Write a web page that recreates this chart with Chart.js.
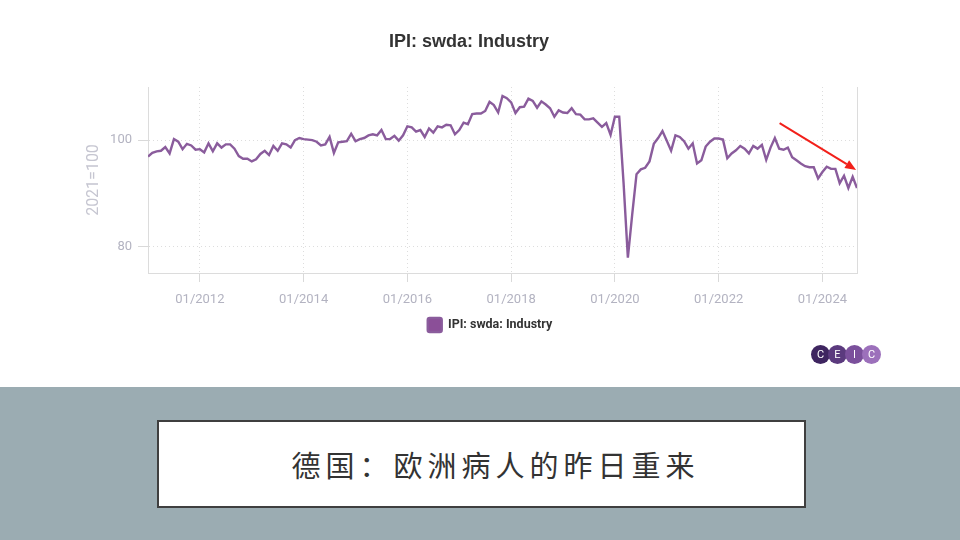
<!DOCTYPE html>
<html>
<head>
<meta charset="utf-8">
<script src="https://cdn.jsdelivr.net/npm/chart.js@4.4.1/dist/chart.umd.min.js"></script>
<style>
html,body{margin:0;padding:0;width:960px;height:540px;overflow:hidden;background:#fff;}
#wrap{position:absolute;left:0;top:0;width:960px;height:387px;background:#fff;}
#band{position:absolute;left:0;top:387px;width:960px;height:153px;background:#9bacb2;}
#box{position:absolute;left:157px;top:420px;width:617px;height:84px;background:#fff;border:2px solid #3f3f3f;
  display:flex;align-items:center;justify-content:center;font-family:"Noto Sans CJK SC";font-size:29px;
  letter-spacing:5px;padding-left:28px;box-sizing:content-box;color:#333;}
#logo{position:absolute;left:811px;top:345px;height:19px;display:flex;}
#logo span{display:block;width:19px;height:19px;border-radius:50%;margin-right:-2px;color:#fff;
  font-family:Roboto;font-size:11px;line-height:19px;text-align:center;}
</style>
</head>
<body>
<div id="wrap"><canvas id="c" width="960" height="387"></canvas></div>
<div id="logo"><span style="background:#3e2560">C</span><span style="background:#5b3a7e">E</span><span style="background:#7b509c">I</span><span style="background:#9c70bb">C</span></div>
<div id="band"></div>
<div id="box">德国：欧洲病人的昨日重来</div>
<script>
// ---- data ----
const chartTitle = 'IPI: swda: Industry';
const seriesName = 'IPI: swda: Industry';
const yAxisTitle = '2021=100';
const startYear = 2011;
const v2011 = [96.9, 97.6, 97.9, 98.0, 98.7, 97.5, 100.2, 99.7, 98.3, 99.3, 99.0, 98.2];
const v2012 = [98.3, 97.7, 99.4, 97.9, 99.4, 98.6, 99.2, 99.2, 98.4, 97.0, 96.5, 96.5];
const v2013 = [96.0, 96.4, 97.4, 98.0, 97.2, 98.9, 98.0, 99.4, 99.2, 98.6, 100.0, 100.4];
const v2014 = [100.2, 100.1, 100.0, 99.7, 99.0, 99.2, 100.6, 97.6, 99.6, 99.7, 99.8, 101.2];
const v2015 = [99.8, 100.2, 100.4, 100.9, 101.1, 100.9, 101.9, 100.2, 100.2, 100.8, 99.9, 100.9];
const v2016 = [102.6, 102.4, 101.6, 101.9, 100.6, 102.2, 101.4, 102.6, 102.4, 102.9, 102.8, 101.1];
const v2017 = [101.9, 103.3, 103.0, 104.9, 105.0, 105.0, 105.5, 107.2, 106.6, 105.2, 108.3, 107.9];
const v2018 = [107.1, 105.1, 106.2, 106.3, 107.8, 107.4, 106.1, 107.3, 106.7, 106.0, 104.4, 105.6];
const v2019 = [105.2, 105.1, 106.0, 104.9, 104.8, 103.9, 103.9, 104.1, 103.3, 102.5, 103.2, 101.0];
const v2020 = [104.4, 104.4, 92.0, 77.9, 86.0, 93.6, 94.5, 94.8, 96.0, 99.3, 100.4, 101.7];
const v2021 = [99.9, 98.0, 100.9, 100.6, 99.8, 98.4, 99.4, 95.6, 96.2, 98.8, 99.7, 100.3];
const v2022 = [100.3, 100.1, 96.6, 97.5, 98.1, 98.9, 98.4, 97.5, 98.9, 98.4, 99.1, 96.3];
const v2023 = [98.6, 100.4, 98.4, 98.2, 98.6, 96.8, 96.2, 95.6, 95.1, 94.9, 94.9, 92.8];
const v2024 = [94.0, 95.0, 94.6, 94.6, 91.9, 93.3, 91.0, 93.1, 91.0];
const xTickLabels = ['01/2012', '01/2014', '01/2016', '01/2018', '01/2020', '01/2022', '01/2024'];
const yTicks = [80, 100];
const yMin = 75, yMax = 110;
// trend arrow annotation, in data units: [month index from 01/2011, value]
const arrowFrom = [146.1, 103.2];
const arrowTo = [163.8, 94.4];

// ---- build ----
const values = [].concat(v2011, v2012, v2013, v2014, v2015, v2016, v2017, v2018, v2019, v2020, v2021, v2022, v2023, v2024);
const categories = values.map((_, i) => {
  const y = startYear + Math.floor(i / 12), m = i % 12 + 1;
  return (m < 10 ? '0' : '') + m + '/' + y;
});
const points = values.map((v, i) => ({ x: i, y: v }));
const xTickIdx = xTickLabels.map(l => categories.indexOf(l));

const arrowPlugin = {
  id: 'arrow',
  afterDatasetsDraw(chart) {
    const xs = chart.scales.x, ys = chart.scales.y, ctx = chart.ctx;
    const x1 = xs.getPixelForValue(arrowFrom[0]), y1 = ys.getPixelForValue(arrowFrom[1]);
    const x2 = xs.getPixelForValue(arrowTo[0]), y2 = ys.getPixelForValue(arrowTo[1]);
    const ang = Math.atan2(y2 - y1, x2 - x1), L = 11, W = 4.5;
    const bx = x2 - L * Math.cos(ang), by = y2 - L * Math.sin(ang);
    ctx.save();
    ctx.strokeStyle = '#f2201a'; ctx.fillStyle = '#f2201a'; ctx.lineWidth = 2;
    ctx.beginPath(); ctx.moveTo(x1, y1); ctx.lineTo(bx, by); ctx.stroke();
    ctx.beginPath();
    ctx.moveTo(x2, y2);
    ctx.lineTo(bx + W * Math.sin(ang), by - W * Math.cos(ang));
    ctx.lineTo(bx - W * Math.sin(ang), by + W * Math.cos(ang));
    ctx.closePath(); ctx.fill();
    ctx.restore();
  }
};
const legendShift = {
  id: 'legendShift',
  afterLayout(chart) {
    if (chart.legend) { chart.legend.left += 21; chart.legend.right += 21; }
  }
};

const tickFont = { family: 'Roboto', size: 13 };
new Chart(document.getElementById('c'), {
  type: 'line',
  data: {
    datasets: [{
      label: seriesName,
      data: points,
      borderColor: '#8a5c9c',
      backgroundColor: '#8b4f98',
      borderWidth: 2.4,
      pointRadius: 0,
      tension: 0,
      fill: false
    }]
  },
  options: {
    responsive: false,
    animation: false,
    layout: { padding: { left: 81, right: 103, top: 0, bottom: 45 } },
    plugins: {
      title: { display: true, text: chartTitle, color: '#333', font: { family: 'Liberation Sans', size: 18, weight: 'bold' }, padding: { top: 31, bottom: 34.4 } },
      legend: {
        position: 'bottom',
        labels: { boxWidth: 14, boxHeight: 14, useBorderRadius: true, borderRadius: 2, color: '#333',
          font: { family: 'Roboto', size: 12.5, weight: 'bold' }, padding: 10 }
      },
      tooltip: { enabled: false }
    },
    scales: {
      x: {
        type: 'linear', min: 0, max: values.length - 1,
        afterBuildTicks: s => { s.ticks = xTickIdx.map(v => ({ value: v })); },
        afterFit: s => { s.height = 35; },
        ticks: { callback: v => categories[v], color: '#b3b3c1', font: tickFont, padding: 10, maxRotation: 0, autoSkip: false },
        grid: { color: '#dddddd', borderDash: [1, 3], tickBorderDash: [], tickLength: 9, tickColor: '#d9d9d9' },
        border: { color: '#dcdcdc', dash: [1, 3] }
      },
      y: {
        min: yMin, max: yMax,
        afterBuildTicks: s => { s.ticks = yTicks.map(v => ({ value: v })); },
        afterFit: s => { s.width = 67; },
        title: { display: true, text: yAxisTitle, color: '#c6c6d1', font: { family: 'Roboto', size: 16 }, padding: { top: 3, bottom: 4 } },
        ticks: { color: '#b3b3c1', font: tickFont, padding: 6 },
        grid: { color: '#dddddd', borderDash: [1, 3], tickBorderDash: [], tickLength: 10, tickColor: '#d9d9d9' },
        border: { color: '#dcdcdc', dash: [1, 3] }
      },
      y2: {
        position: 'right', min: yMin, max: yMax,
        ticks: { display: false },
        grid: { display: false },
        border: { color: '#dcdcdc' },
        afterFit: s => { s.width = 0; }
      }
    }
  },
  plugins: [arrowPlugin, legendShift]
});
</script>
</body>
</html>
